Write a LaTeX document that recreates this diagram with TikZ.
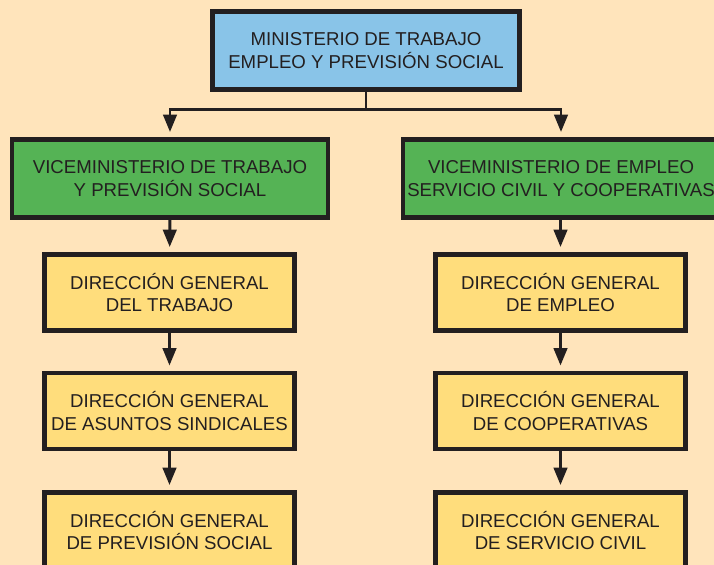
\documentclass[tikz,border=0pt]{standalone}
\usepackage{fontspec}
\setmainfont{Liberation Sans}
\usepackage{tikz}
\usetikzlibrary{arrows.meta}

\definecolor{fondo}{HTML}{FFE4BB}
\definecolor{azul}{HTML}{89C4E8}
\definecolor{verde}{HTML}{55B355}
\definecolor{amarillo}{HTML}{FFDD7C}
\definecolor{linea}{HTML}{231F20}

\begin{document}
\begin{tikzpicture}[
  caja/.style={draw=linea, line width=2.8pt, align=center, text=linea, inner sep=0pt,
    font=\fontsize{10.6}{13}\selectfont},
  ministerio/.style={caja, fill=azul, minimum width=6.14cm, minimum height=1.56cm},
  vice/.style={caja, fill=verde, minimum width=6.32cm, minimum height=1.56cm},
  direccion/.style={caja, fill=amarillo, minimum width=5cm, minimum height=1.52cm},
  flecha/.style={draw=linea, line width=1.7pt, -{Triangle[length=0.35cm,width=0.27cm]}, shorten >=0.1cm}]
\useasboundingbox (0,0) rectangle (14.28,-11.3);
\clip (0,0) rectangle (14.28,-11.3);
\fill[fondo] (0,0) rectangle (14.28,-11.3); % background
\node[ministerio] (mtps) at (7.32,-1.01) {MINISTERIO DE TRABAJO\\EMPLEO Y PREVISIÓN SOCIAL};
\node[vice] (vtps) at (3.4,-3.57) {VICEMINISTERIO DE TRABAJO\\Y PREVISIÓN SOCIAL};
\node[vice] (vesc) at (11.22,-3.57) {VICEMINISTERIO DE EMPLEO\\SERVICIO CIVIL Y COOPERATIVAS}; % viceministerios
\node[direccion] (dgt) at (3.39,-5.85) {DIRECCIÓN GENERAL\\DEL TRABAJO};
\node[direccion] (dgas) at (3.39,-8.22) {DIRECCIÓN GENERAL\\DE ASUNTOS SINDICALES};
\node[direccion] (dgps) at (3.39,-10.61) {DIRECCIÓN GENERAL\\DE PREVISIÓN SOCIAL}; % left column
\node[direccion] (dge) at (11.21,-5.85) {DIRECCIÓN GENERAL\\DE EMPLEO};
\node[direccion] (dgc) at (11.21,-8.22) {DIRECCIÓN GENERAL\\DE COOPERATIVAS};
\node[direccion] (dgsc) at (11.21,-10.61) {DIRECCIÓN GENERAL\\DE SERVICIO CIVIL}; % right column
\coordinate (bus) at (mtps.south |- 0,-2.2);
\draw[draw=linea, line width=1.7pt] (mtps.south) -- (bus);
\draw[flecha] (bus) -| (vtps);
\draw[flecha] (bus) -| (vesc); % branches
\draw[flecha] (vtps) -- (dgt);
\draw[flecha] (dgt) -- (dgas);
\draw[flecha] (dgas) -- (dgps);
\draw[flecha] (vesc.south -| dge.north) -- (dge);
\draw[flecha] (dge) -- (dgc);
\draw[flecha] (dgc) -- (dgsc); % arrows down
\end{tikzpicture}
\end{document}
